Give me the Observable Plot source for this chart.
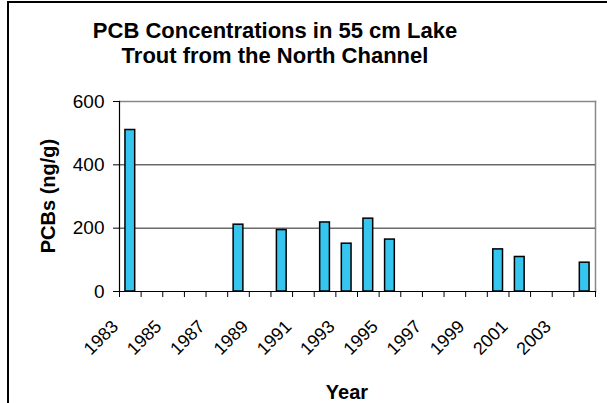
<!DOCTYPE html>
<html>
<head>
<meta charset="utf-8">
<script src="https://cdn.jsdelivr.net/npm/d3@7"></script>
<script src="https://cdn.jsdelivr.net/npm/@observablehq/plot@0.6"></script>
<style>
  html, body { margin: 0; padding: 0; background: #fff; }
  body { width: 607px; height: 403px; position: relative; overflow: hidden; font-family: "Liberation Sans", Arial, sans-serif; }
  #frame { position: absolute; left: 7px; top: 1px; width: 700px; height: 500px; border-left: 2px solid #000; border-top: 2px solid #000; box-sizing: border-box; }
  #title { position: absolute; left: 75px; width: 400px; top: 19px; text-align: center; font-weight: bold; font-size: 22px; line-height: 24.5px; color: #000; }
  #ylab { position: absolute; left: 48px; top: 196px; transform: translate(-50%, -50%) rotate(-90deg); font-weight: bold; font-size: 20px; white-space: nowrap; }
  #xlab { position: absolute; left: 347px; top: 381px; transform: translateX(-50%); font-weight: bold; font-size: 20px; white-space: nowrap; }
  #chart { position: absolute; left: 0; top: 0; }
</style>
</head>
<body>
<div id="frame"></div>
<div id="chart"></div>
<div id="title">PCB Concentrations in 55 cm Lake<br>Trout from the North Channel</div>
<div id="ylab">PCBs (ng/g)</div>
<div id="xlab">Year</div>
<script>
const years = d3.range(1983, 2005);
const sampleYears = [1983, 1988, 1990, 1992, 1993, 1994, 1995, 2000, 2001, 2004];
const pcbValues = [510, 211, 194, 218, 151, 230, 164, 133, 109, 91];
const labelYears = [1983, 1985, 1987, 1989, 1991, 1993, 1995, 1997, 1999, 2001, 2003];
const yTicks = [0, 200, 400, 600];
const gridValues = [200, 400];

const data = sampleYears.map((y, i) => ({year: y, value: pcbValues[i]}));
const W = 607, H = 403, ML = 119, MR = 12, MT = 101, MB = 112;
const halfBand = (W - ML - MR) / years.length / 2;

const chart = Plot.plot({
  width: W,
  height: H,
  marginLeft: ML,
  marginRight: MR,
  marginTop: MT,
  marginBottom: MB,
  style: {fontFamily: "'Liberation Sans', Arial, sans-serif", background: "transparent", color: "#000"},
  x: {type: "band", domain: years, paddingInner: 0.55, paddingOuter: 0.275, round: false, axis: null},
  y: {domain: [0, 600], axis: null},
  marks: [
    Plot.frame({anchor: "top", stroke: "#888", strokeWidth: 1.5}),
    Plot.frame({anchor: "right", stroke: "#888", strokeWidth: 1.5}),
    Plot.ruleY(gridValues, {stroke: "#222", strokeWidth: 1}),
    Plot.barY(data, {x: "year", y: "value", fill: "#36c5ef", stroke: "#000", strokeWidth: 1.5}),
    Plot.frame({anchor: "bottom", stroke: "#000", strokeWidth: 1.2}),
    Plot.frame({anchor: "left", stroke: "#000", strokeWidth: 1.2}),
    Plot.axisY({ticks: yTicks, tickSize: 6, tickPadding: 9, fontSize: 19, stroke: "#000", label: null}),
    Plot.axisX({ticks: years, tickSize: 6, tickFormat: () => "", dx: -halfBand, stroke: "#000", label: null}),
    Plot.axisX({ticks: [years[years.length - 1]], tickSize: 6, tickFormat: () => "", dx: halfBand, stroke: "#000", label: null}),
    Plot.text(labelYears, {x: d => d, y: () => 0, text: d => String(d), rotate: -45, textAnchor: "end", fontSize: 18, dx: -15, dy: 32, fill: "#000"})
  ]
});
document.getElementById("chart").appendChild(chart);
</script>
</body>
</html>
